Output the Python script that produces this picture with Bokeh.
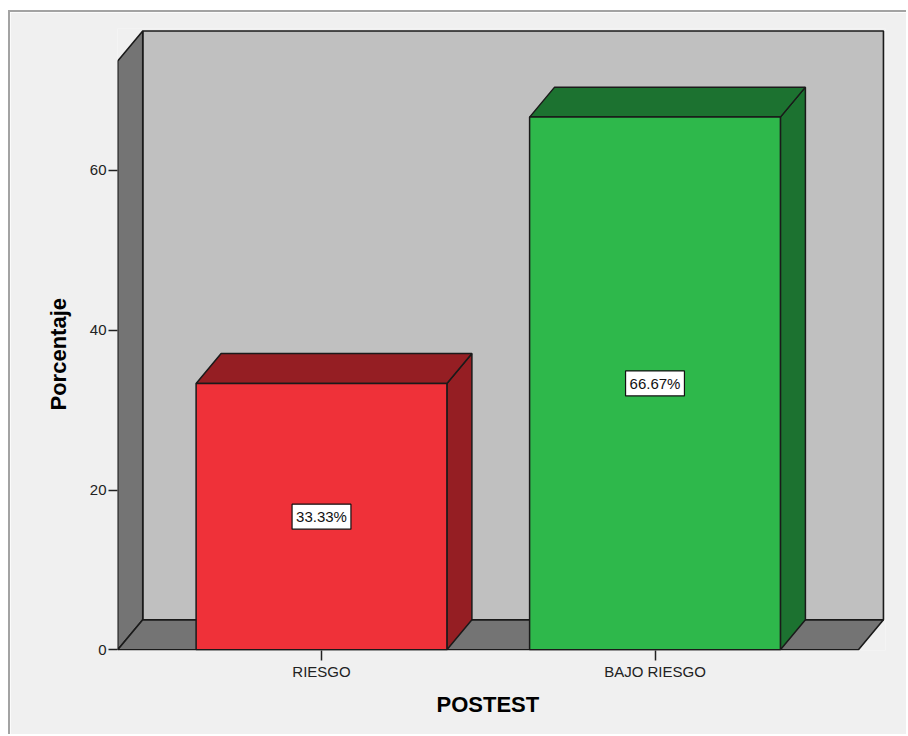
from bokeh.plotting import figure
from bokeh.models import Range1d, FixedTicker, Label, Title, ColumnDataSource
from bokeh.embed import file_html
from bokeh.resources import INLINE

# ---- data -------------------------------------------------------------
categories = ["RIESGO", "BAJO RIESGO"]
percentages = [33.33, 66.67]
value_labels = ["33.33%", "66.67%"]
y_ticks = [0, 20, 40, 60]

# ---- styling ----------------------------------------------------------
front_colors = ["#EF3139", "#2EB84B"]
shade_colors = ["#951E23", "#1C7230"]
BACK_WALL = "#C0C0C0"
SIDE_WALL = "#747474"
EDGE = "#1a1a1a"
PAGE_BG = "#F0F0F0"
FONT = "Liberation Sans"

# chart box in category / percent units
X_LEFT, X_RIGHT = 0.389, 2.610      # front floor edge
WALL_TOP = 73.7                     # height of the walls
BAR_W = 0.752
DX, DY = 0.075, 3.75                # 3-D depth offset

# page placement of the canvas (margin + border of the host element)
OX, OY = 10, 12
W, H = 908 - OX, 736 - OY
FRAME_L, FRAME_R, FRAME_T, FRAME_B = 117, 885, 28, 650   # page px
X_PX, Y_PX = 333.5, 7.99            # px per unit
X0_PAGE, Y0_PAGE = 321.0, 649.3     # page px of x=1, y=0

x_start = 1 + (FRAME_L - X0_PAGE) / X_PX
x_end = 1 + (FRAME_R - X0_PAGE) / X_PX
y_start = (Y0_PAGE - FRAME_B) / Y_PX
y_end = (Y0_PAGE - FRAME_T) / Y_PX

p = figure(
    width=W, height=H,
    x_range=Range1d(x_start, x_end), y_range=Range1d(y_start, y_end),
    output_backend="svg", toolbar_location=None,
    min_border_left=FRAME_L - OX, min_border_right=W - (FRAME_R - OX),
    min_border_top=FRAME_T - OY, min_border_bottom=H - (FRAME_B - OY),
)
p.styles = {
    "margin-left": "8px", "margin-top": "10px",
    "border-left": "2px solid #a3a3a3", "border-top": "2px solid #a3a3a3",
}
p.background_fill_color = PAGE_BG
p.border_fill_color = PAGE_BG
p.outline_line_color = None
p.grid.visible = False

# ---- walls ------------------------------------------------------------
# back wall
p.quad(left=X_LEFT + DX, right=X_RIGHT + DX, bottom=DY, top=WALL_TOP + DY,
       fill_color=BACK_WALL, line_color=EDGE, line_width=1.6)
# left wall
p.patch([X_LEFT, X_LEFT, X_LEFT + DX, X_LEFT + DX],
        [0, WALL_TOP, WALL_TOP + DY, DY],
        fill_color=SIDE_WALL, line_color=EDGE, line_width=1.6)
# floor
p.patch([X_LEFT, X_LEFT + DX, X_RIGHT + DX, X_RIGHT],
        [0, DY, DY, 0],
        fill_color=SIDE_WALL, line_color=EDGE, line_width=1.6)

# ---- bars -------------------------------------------------------------
xs = [i + 1 for i in range(len(categories))]
hw = BAR_W / 2
side_x, side_y, top_x, top_y = [], [], [], []
for x, v in zip(xs, percentages):
    side_x.append([x + hw, x + hw + DX, x + hw + DX, x + hw])
    side_y.append([0, DY, v + DY, v])
    top_x.append([x - hw, x - hw + DX, x + hw + DX, x + hw])
    top_y.append([v, v + DY, v + DY, v])

shade_src = ColumnDataSource(dict(sx=side_x, sy=side_y, tx=top_x, ty=top_y, c=shade_colors))
p.patches("sx", "sy", source=shade_src, fill_color="c", line_color=EDGE, line_width=1.5)
p.patches("tx", "ty", source=shade_src, fill_color="c", line_color=EDGE, line_width=1.5)

front_src = ColumnDataSource(dict(x=xs, top=percentages, c=front_colors))
p.vbar(x="x", top="top", bottom=0, width=BAR_W, source=front_src,
       fill_color="c", line_color=EDGE, line_width=1.5)

for x, v, txt in zip(xs, percentages, value_labels):
    p.add_layout(Label(x=x, y=v / 2, text=txt, text_align="center",
                       text_baseline="middle", text_font=FONT,
                       text_font_size="15px", text_color="#111111",
                       background_fill_color="white",
                       border_line_color="#111111", border_line_width=1.2,
                       padding=4))

# ---- axes -------------------------------------------------------------
ya = p.yaxis[0]
ya.ticker = FixedTicker(ticks=y_ticks)
ya.axis_line_color = None
ya.major_tick_in = 0
ya.major_tick_out = 9
ya.major_tick_line_color = "#222222"
ya.major_tick_line_width = 1.5
ya.minor_tick_line_color = None
ya.major_label_standoff = 2
ya.major_label_text_font = FONT
ya.major_label_text_font_size = "15px"
ya.major_label_text_color = "#222222"

xa = p.xaxis[0]
xa.ticker = FixedTicker(ticks=xs)
xa.major_label_overrides = {x: c for x, c in zip(xs, categories)}
xa.axis_line_color = None
xa.major_tick_in = 0
xa.major_tick_out = 10
xa.major_tick_line_color = "#222222"
xa.major_tick_line_width = 1.5
xa.minor_tick_line_color = None
xa.major_label_standoff = 2
xa.major_label_text_font = FONT
xa.major_label_text_font_size = "15px"
xa.major_label_text_color = "#222222"

# axis titles, aligned to the front face of the chart box
x_title = Title(text="POSTEST", align="left", offset=319, standoff=14,
                text_font=FONT, text_font_size="22px", text_font_style="bold",
                text_color="#000000")
p.add_layout(x_title, "below")
y_title = Title(text="Porcentaje", align="left", offset=240, standoff=31,
                text_font=FONT, text_font_size="22px", text_font_style="bold",
                text_color="#000000")
p.add_layout(y_title, "left")

with open("out.html", "w") as f:
    f.write(file_html(p, INLINE))
